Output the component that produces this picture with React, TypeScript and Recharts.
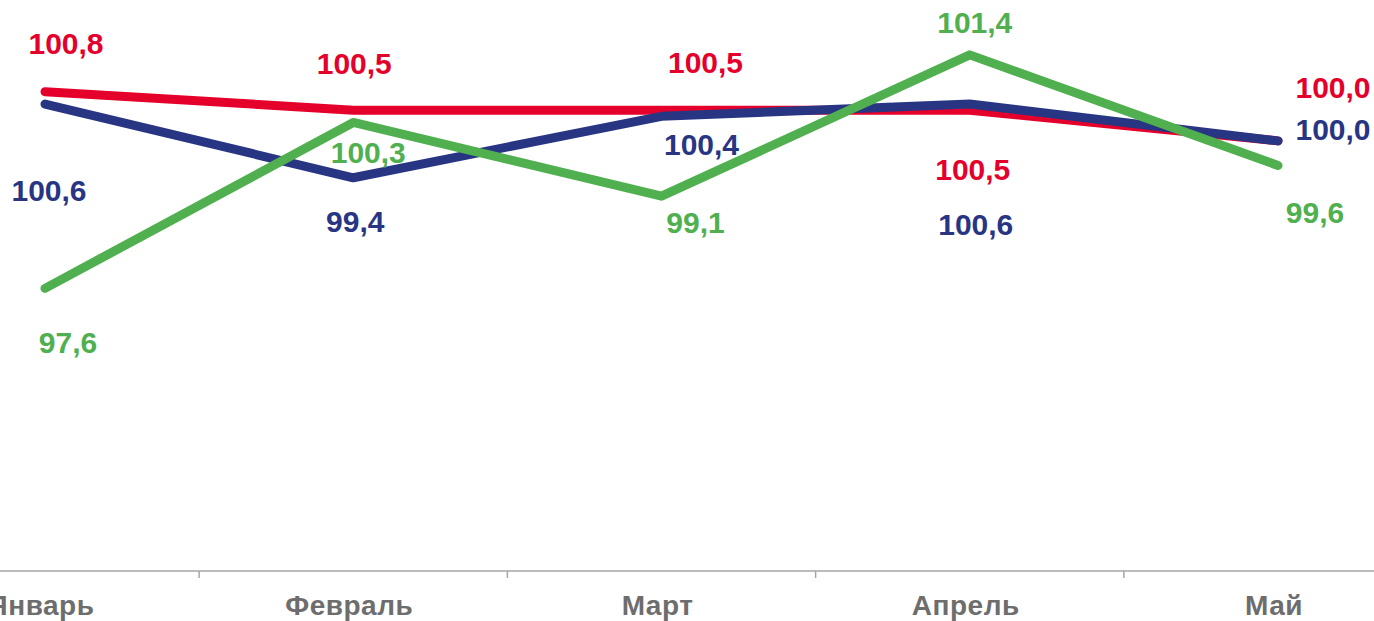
import React from 'react';
import { LineChart, Line, XAxis, YAxis } from 'recharts';

const months = ['Январь', 'Февраль', 'Март', 'Апрель', 'Май'];
const redValues = [100.8, 100.5, 100.5, 100.5, 100.0];
const blueValues = [100.6, 99.4, 100.4, 100.6, 100.0];
const greenValues = [97.6, 100.3, 99.1, 101.4, 99.6];

// where each value label sits relative to its point (text centre, px)
const redLabelOffsets = [[21, -48], [1, -47], [44, -48], [3, 59], [55, -53]];
const blueLabelOffsets = [[4, 86], [2, 44], [40, 28], [6, 120], [55, -11]];
const greenLabelOffsets = [[23, 54], [15, 30], [34, 26], [5, -32], [37, 47]];

const RED = '#E4002B';
const BLUE = '#283583';
const GREEN = '#50B04F';

const WIDTH = 1374;
const HEIGHT = 621;
const PAD_LEFT = 45;
const PAD_RIGHT = 96;
const STEP = (WIDTH - PAD_LEFT - PAD_RIGHT) / (months.length - 1);
const TICK_SIZE = 7;
const FONT = '"Liberation Sans", Arial, sans-serif';

const data = months.map((month, i) => ({
  month,
  red: redValues[i],
  blue: blueValues[i],
  green: greenValues[i],
}));

const fmt = (v: number) => v.toFixed(1).replace('.', ',');

const makeLabel = (color: string, offsets: number[][]) => (props: any) => {
  const { x, y, value, index } = props;
  const [dx, dy] = offsets[index] || [0, 0];
  return (
    <text
      x={x + dx}
      y={y + dy + 10.5}
      textAnchor="middle"
      fontSize={30}
      fontWeight="bold"
      fontFamily={FONT}
      fill={color}
    >
      {fmt(Number(value))}
    </text>
  );
};

// Excel-style axis: tick marks between categories, labels centred
const MonthTick = (props: any) => {
  const { x, y, payload } = props;
  const tx = x - STEP / 2;
  return (
    <g>
      <line x1={tx} y1={y - TICK_SIZE} x2={tx} y2={y} stroke="#a6a6a6" strokeWidth={1.5} />
      <text
        x={x - 4}
        y={y + 37}
        textAnchor="middle"
        fontSize={28}
        fontWeight="bold"
        fontFamily={FONT}
        fill="#6d6d6d"
        letterSpacing={0.5}
      >
        {payload.value}
      </text>
    </g>
  );
};

const App: React.FC = () => {
  return (
    <div
      style={{
        position: 'absolute',
        left: 0,
        top: 0,
        width: WIDTH,
        height: HEIGHT,
        overflow: 'hidden',
        background: '#fff',
      }}
    >
      <LineChart width={WIDTH} height={HEIGHT} data={data} margin={{ top: 18, right: 0, bottom: 0, left: 0 }}>
        <XAxis
          dataKey="month"
          height={50}
          padding={{ left: PAD_LEFT, right: PAD_RIGHT }}
          axisLine={{ stroke: '#a6a6a6', strokeWidth: 1.5 }}
          tickLine={false}
          tickSize={TICK_SIZE}
          tickMargin={0}
          interval={0}
          tick={<MonthTick />}
        />
        <YAxis hide domain={[93, 102]} />
        <Line
          dataKey="red"
          stroke={RED}
          strokeWidth={9}
          strokeLinecap="round"
          strokeLinejoin="round"
          dot={false}
          activeDot={false}
          label={makeLabel(RED, redLabelOffsets)}
          isAnimationActive={false}
        />
        <Line
          dataKey="blue"
          stroke={BLUE}
          strokeWidth={9}
          strokeLinecap="round"
          strokeLinejoin="round"
          dot={false}
          activeDot={false}
          label={makeLabel(BLUE, blueLabelOffsets)}
          isAnimationActive={false}
        />
        <Line
          dataKey="green"
          stroke={GREEN}
          strokeWidth={9}
          strokeLinecap="round"
          strokeLinejoin="round"
          dot={false}
          activeDot={false}
          label={makeLabel(GREEN, greenLabelOffsets)}
          isAnimationActive={false}
        />
      </LineChart>
    </div>
  );
};

export default App;
